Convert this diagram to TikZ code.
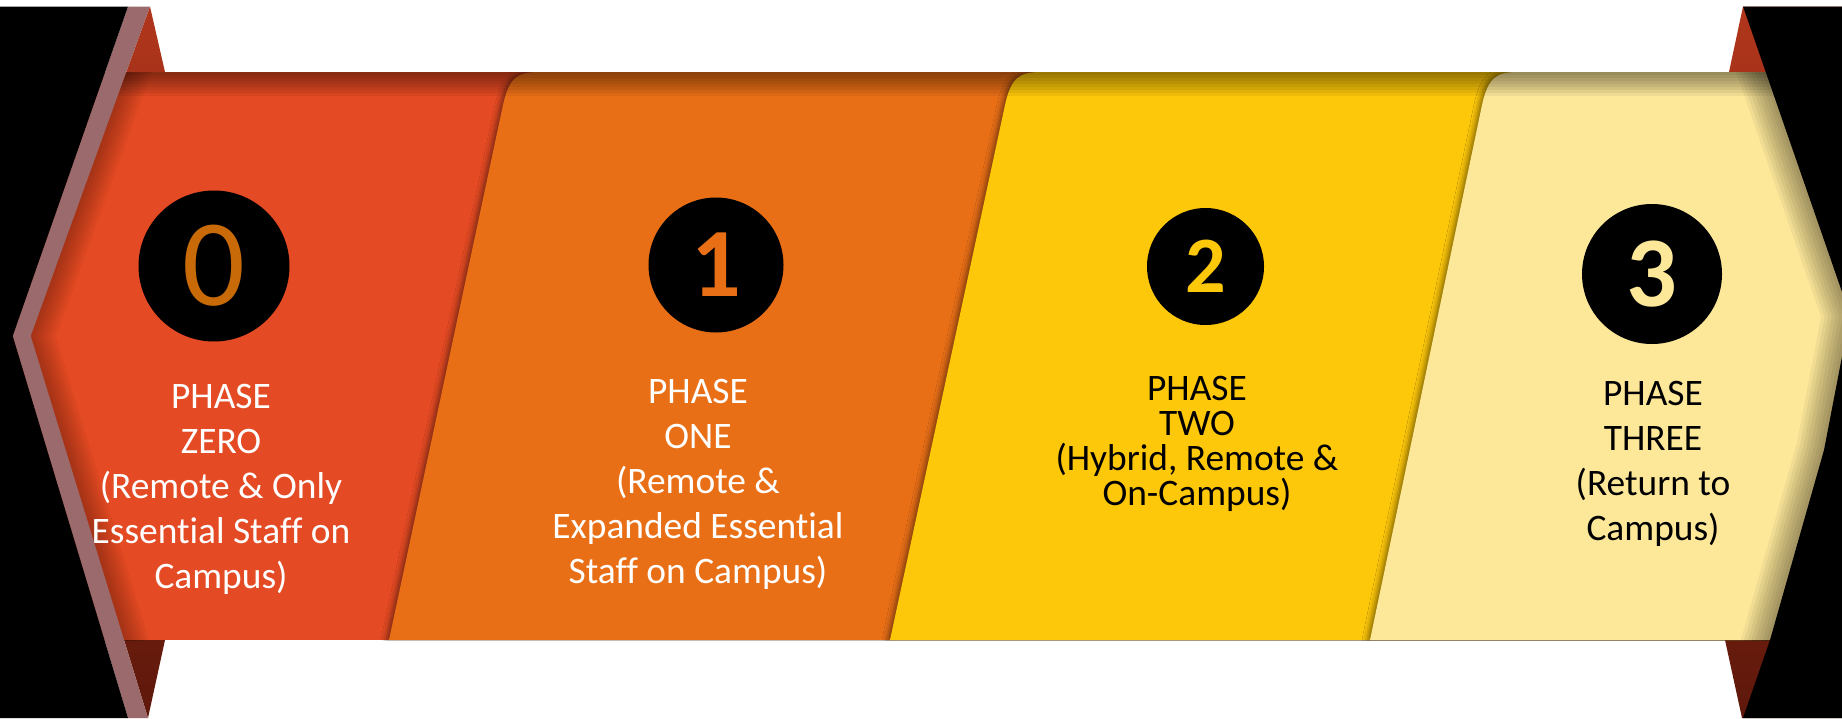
\documentclass[tikz,border=0pt]{standalone}
\usepackage{fontspec}
\setmainfont{Carlito}[Ligatures=NoCommon]
\usepackage{xcolor}
\usetikzlibrary{shadows.blur}

\definecolor{phzero}{HTML}{E44A23}
\definecolor{phone}{HTML}{E96F17}
\definecolor{phtwo}{HTML}{FDC70A}
\definecolor{phthree}{HTML}{FDE89A}
\definecolor{zerodigit}{HTML}{C86A08}
\definecolor{rimpink}{HTML}{9A6A6C}
\definecolor{backred}{HTML}{B0361B}
\definecolor{backdark}{HTML}{5E180B}

\begin{document}
\begin{tikzpicture}[x=0.5pt,y=-0.5pt,
    phasecard/.style={fill=#1, blur shadow={shadow xshift=-1.5pt, shadow yshift=0pt, shadow blur radius=2.5pt, shadow opacity=45}},
    badge/.style={circle, fill=black, inner sep=0pt, minimum size=#1},
    phasetext/.style={align=center, font=\fontsize{18.7}{22.5}\selectfont}]
\useasboundingbox (0,0) rectangle (1842,718);
\clip (0,0) rectangle (1842,718);
\fill[white] (0,0) rectangle (1842,718);

% arrow ends behind the band
\shade[top color=backred, bottom color=backdark] (150,6.5) -- (165,72) -- (165,640) -- (148,718) -- (30.7,336) -- cycle;
\shade[top color=backred, bottom color=backdark] (1743,6.5) -- (1729,72) -- (1725,640) -- (1742,718) -- (1842,718) -- (1842,6.5) -- cycle;

% the band, one card per phase
\begin{scope}
  \clip (0,72) rectangle (1842,640);
  \fill[phzero] (0,72) rectangle (1842,640);
  \foreach \col/\xb/\xt in {phone/389/503, phtwo/890/1005, phthree/1370/1482}
    \fill[phasecard=\col] (\xb,640) -- (\xt,105) .. controls (\xt+6,78) and (\xt+14,72) .. (\xt+36,72) -- (1900,72) -- (1900,640) -- cycle;
  % shade along the top
  \foreach \i in {1,...,8}
    \draw[black, opacity=0.06, line width=\i*3pt] (0,72) -- (1842,72);
  % shade under the left rim
  \foreach \i in {1,...,8}
    \draw[black, opacity=0.035, line width=\i*3pt, line join=round] (150,6.5) -- (30.7,336) -- (148,718);
  % shade against the right edge
  \foreach \i in {1,...,8}
    \draw[black, opacity=0.05, line width=\i*3.5pt, line join=round] (1743,6.5) -- (1850,315) -- (1824,450) -- (1770,640) -- (1743,718);
\end{scope}

% left rim and dark sides
\fill[rimpink] (128,6.5) -- (12.7,336) -- (128,718) -- (148,718) -- (30.7,336) -- (150,6.5) -- cycle;
\fill[black] (0,6.5) -- (128,6.5) -- (12.7,336) -- (128,718) -- (0,718) -- cycle;
\fill[black] (1743,6.5) -- (1842,6.5) -- (1842,718) -- (1743,718) -- (1770,640) -- (1824,450) -- (1850,315) -- cycle;

% numbered badges
\node[badge=75.5pt, text=zerodigit, font=\fontsize{62}{62}\selectfont] (c0) at (214,266) {0};
\node[badge=67.5pt, text=phone, font=\bfseries\fontsize{49}{49}\selectfont] (c1) at (716,265) {1};
\node[badge=58.5pt, text=phtwo, font=\bfseries\fontsize{40}{40}\selectfont] (c2) at (1205.5,266.5) {2};
\node[badge=70pt, text=phthree, font=\bfseries\fontsize{50}{50}\selectfont] (c3) at (1652,274) {3};

% phase captions
\node[phasetext, text=white] (t0) at (221,489) {PHASE\\ZERO\\(Remote \& Only\\Essential Staff on\\Campus)};
\node[phasetext, text=white] (t1) at (698,484) {PHASE\\ONE\\(Remote \&\\Expanded Essential\\Staff on Campus)};
\node[phasetext, font=\fontsize{18.7}{17.5}\selectfont] (t2) at (1197,444) {PHASE\\TWO\\(Hybrid, Remote \&\\On-Campus)};
\node[phasetext] (t3) at (1653,464) {PHASE\\THREE\\(Return to\\Campus)};
\end{tikzpicture}
\end{document}
